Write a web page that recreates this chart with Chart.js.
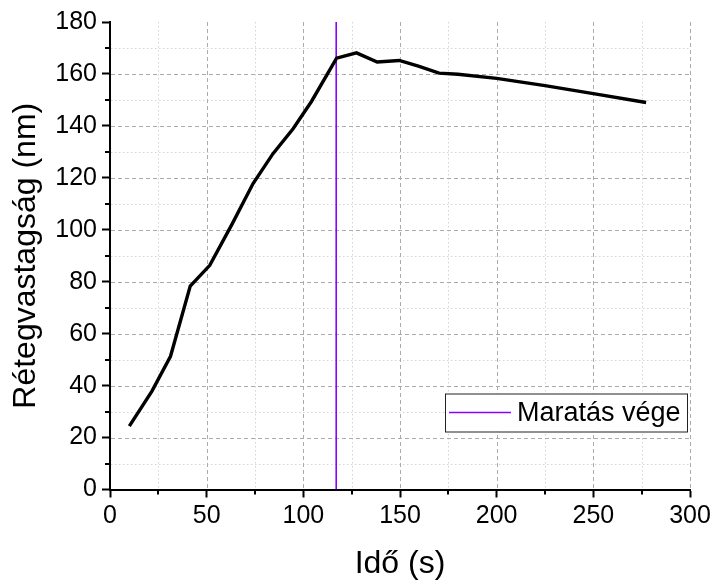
<!DOCTYPE html>
<html>
<head>
<meta charset="utf-8">
<script src="https://cdn.jsdelivr.net/npm/chart.js@4/dist/chart.umd.min.js"></script>
<style>
html,body{margin:0;padding:0;background:#fff;}
#wrap{width:715px;height:582px;}
</style>
</head>
<body>
<div id="wrap"><canvas id="c" width="715" height="582"></canvas></div>
<script>
const timeValues = [10, 21.7, 31.3, 41.5, 51.6, 63, 74, 84.3, 94.7, 104.2, 117.2, 127.5, 138.2, 149.6, 159.5, 170.2, 180, 200, 225, 250, 277.3];
const thicknessValues = [24.4, 37.9, 51.3, 78.3, 86.3, 102, 117.8, 129.3, 138.9, 149.4, 166.1, 168.1, 164.6, 165.2, 163, 160.3, 159.9, 158.3, 155.5, 152.4, 149];
const etchEndTime = 117;
const etchLineY = [0, 180];
const etchLabel = 'Maratás vége';
const xTitle = 'Idő (s)';
const yTitle = 'Rétegvastagság (nm)';
const xMajorTicks = [0, 50, 100, 150, 200, 250, 300];
const xMinorTicks = [25, 75, 125, 175, 225, 275];
const yMajorTicks = [0, 20, 40, 60, 80, 100, 120, 140, 160, 180];
const yMinorTicks = [10, 30, 50, 70, 90, 110, 130, 150, 170];

const FONT = '"Liberation Sans", Arial, sans-serif';

const gridPlugin = {
  id: 'gridPlugin',
  beforeDatasetsDraw(chart) {
    const {ctx, chartArea: a, scales: {x, y}} = chart;
    ctx.save();
    ctx.lineWidth = 1;
    // minor dotted grid
    ctx.strokeStyle = '#d4d4d4';
    ctx.setLineDash([1.5, 2.5]);
    xMinorTicks.forEach(v => { const p = Math.round(x.getPixelForValue(v)) + 0.5; ctx.beginPath(); ctx.moveTo(p, a.top); ctx.lineTo(p, a.bottom - 1); ctx.stroke(); });
    yMinorTicks.forEach(v => { const p = Math.round(y.getPixelForValue(v)) + 0.5; ctx.beginPath(); ctx.moveTo(a.left + 1, p); ctx.lineTo(a.right, p); ctx.stroke(); });
    // major dashed grid
    ctx.strokeStyle = '#ababab';
    ctx.setLineDash([4, 3]);
    xMajorTicks.filter(v => v !== 0).forEach(v => { const p = Math.round(x.getPixelForValue(v)) + 0.5; ctx.beginPath(); ctx.moveTo(p, a.top); ctx.lineTo(p, a.bottom - 1); ctx.stroke(); });
    yMajorTicks.filter(v => v !== 0 && v !== 180).forEach(v => { const p = Math.round(y.getPixelForValue(v)) + 0.5; ctx.beginPath(); ctx.moveTo(a.left + 1, p); ctx.lineTo(a.right, p); ctx.stroke(); });
    // minor ticks
    ctx.setLineDash([]);
    ctx.strokeStyle = '#000';
    ctx.lineWidth = 2;
    xMinorTicks.forEach(v => { const p = Math.round(x.getPixelForValue(v)); ctx.beginPath(); ctx.moveTo(p, a.bottom); ctx.lineTo(p, a.bottom + 5); ctx.stroke(); });
    yMinorTicks.forEach(v => { const p = Math.round(y.getPixelForValue(v)); ctx.beginPath(); ctx.moveTo(a.left, p); ctx.lineTo(a.left - 5, p); ctx.stroke(); });
    ctx.restore();
  }
};

const legendPlugin = {
  id: 'boxLegend',
  afterDatasetsDraw(chart) {
    const {ctx, chartArea: a} = chart;
    const ds = chart.data.datasets[1];
    const right = a.right - 3, left = right - 242, top = a.bottom - 96, h = 38;
    ctx.save();
    ctx.fillStyle = '#fff';
    ctx.fillRect(left, top, right - left, h);
    ctx.strokeStyle = '#222';
    ctx.lineWidth = 1;
    ctx.strokeRect(left + 0.5, top + 0.5, right - left, h);
    ctx.strokeStyle = ds.borderColor;
    ctx.lineWidth = 1.5;
    ctx.beginPath();
    ctx.moveTo(left + 4, top + h / 2);
    ctx.lineTo(left + 66, top + h / 2);
    ctx.stroke();
    ctx.fillStyle = '#000';
    ctx.font = '27px ' + FONT;
    ctx.textBaseline = 'middle';
    ctx.fillText(ds.label, left + 72, top + h / 2 + 1);
    ctx.restore();
  }
};

new Chart(document.getElementById('c'), {
  type: 'line',
  data: {
    datasets: [
      {
        label: 'Rétegvastagság',
        data: timeValues.map((t, i) => ({x: t, y: thicknessValues[i]})),
        borderColor: '#000',
        borderWidth: 3.4,
        pointRadius: 0,
        tension: 0,
        fill: false
      },
      {
        label: etchLabel,
        data: etchLineY.map(v => ({x: etchEndTime, y: v})),
        borderColor: '#8c00ff',
        borderWidth: 1.6,
        pointRadius: 0,
        fill: false
      }
    ]
  },
  options: {
    responsive: false,
    animation: false,
    devicePixelRatio: 1,
    layout: {padding: {top: 22, right: 25, left: 0, bottom: 0}},
    plugins: {legend: {display: false}, tooltip: {enabled: false}},
    scales: {
      x: {
        type: 'linear', min: 0, max: 300,
        afterBuildTicks: s => { s.ticks = xMajorTicks.map(v => ({value: v})); },
        afterFit: s => { s.height = 92.5; },
        ticks: {font: {size: 25, family: FONT}, color: '#000', padding: 4, maxRotation: 0},
        grid: {drawOnChartArea: false, tickLength: 8, tickWidth: 2, tickColor: '#000'},
        border: {color: '#000', width: 2},
        title: {display: true, text: xTitle, color: '#000', font: {size: 32, family: FONT, lineHeight: 1}, padding: {top: 0, bottom: 2}}
      },
      y: {
        type: 'linear', min: 0, max: 180,
        afterBuildTicks: s => { s.ticks = yMajorTicks.map(v => ({value: v})); },
        afterFit: s => { s.width = 110; },
        ticks: {font: {size: 25, family: FONT}, color: '#000', padding: 5},
        grid: {drawOnChartArea: false, tickLength: 8, tickWidth: 2, tickColor: '#000'},
        border: {color: '#000', width: 2},
        title: {display: true, text: yTitle, color: '#000', font: {size: 32, family: FONT, lineHeight: 1}, padding: {top: 10, bottom: 0}}
      }
    }
  },
  plugins: [gridPlugin, legendPlugin]
});
</script>
</body>
</html>
